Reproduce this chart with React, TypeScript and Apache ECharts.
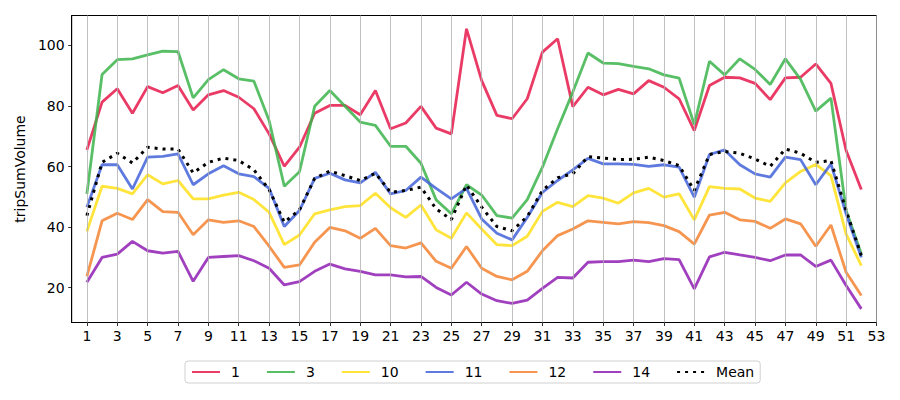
import React, { useEffect, useRef } from "react";
import * as echarts from "echarts";

const weeks = [1,2,3,4,5,6,7,8,9,10,11,12,13,14,15,16,17,18,19,20,21,22,23,24,25,26,27,28,29,30,31,32,33,34,35,36,37,38,39,40,41,42,43,44,45,46,47,48,49,50,51,52];
const xTicks = [1,3,5,7,9,11,13,15,17,19,21,23,25,27,29,31,33,35,37,39,41,43,45,47,49,51,53];
const yTicks = [20,40,60,80,100];

const s1 = [65.5,81.3,85.7,77.6,86.4,84.4,86.8,78.7,83.7,85.1,82.9,79.1,70.8,60.1,66.4,77.6,80.2,80.2,77.1,85.1,72.5,74.4,79.9,72.7,70.8,105.5,88.4,76.9,75.8,82.4,97.8,102.2,79.8,86.2,83.7,85.5,84.0,88.4,86.2,82.4,71.9,86.8,89.5,89.3,87.5,82.1,89.3,89.5,93.9,87.5,65.3,52.4];
const s3 = [51.0,90.4,95.3,95.6,96.9,98.1,98.0,82.7,88.7,92.0,89.0,88.2,75.2,53.5,58.3,79.9,85.1,79.9,74.7,73.6,66.7,66.7,61.1,49.0,44.4,54.0,50.6,43.8,43.0,49.1,59.8,72.5,84.6,97.5,94.2,94.0,93.1,92.3,90.3,89.2,73.9,94.8,90.3,95.6,92.1,87.1,95.6,88.8,78.3,82.6,45.5,31.1];
const s10 = [38.6,53.5,52.8,51.0,57.3,54.3,55.4,49.3,49.3,50.6,51.5,49.1,44.9,34.2,37.4,44.4,45.7,46.8,47.1,51.2,46.4,43.2,47.3,39.1,36.3,44.7,39.4,34.2,33.9,37.0,45.2,48.2,46.8,50.4,49.6,47.9,51.3,52.8,49.9,51.0,42.4,53.4,52.8,52.6,49.6,48.5,54.6,58.4,60.7,57.0,37.7,27.3];
const s11 = [46.6,60.6,60.6,52.6,63.1,63.4,64.2,54.0,57.6,60.3,57.6,56.7,52.8,40.2,45.5,56.1,57.8,55.6,54.6,58.1,51.0,52.1,56.5,52.8,49.3,52.8,42.7,38.0,35.8,43.2,51.5,55.4,58.9,62.7,60.9,60.9,60.7,60.1,60.6,59.8,49.9,64.0,65.5,60.6,57.6,56.5,63.1,62.3,54.0,60.9,44.4,30.0];
const s12 = [23.7,42.1,44.6,42.5,49.1,45.1,44.9,37.5,42.4,41.6,42.1,40.2,33.7,26.7,27.5,35.0,39.9,38.8,36.3,39.6,33.9,33.1,34.8,28.7,26.4,33.6,26.4,23.7,22.6,25.4,32.2,37.2,39.4,42.1,41.6,41.1,41.8,41.5,40.5,38.5,34.4,44.0,44.9,42.4,41.9,39.6,42.7,41.1,33.7,40.7,25.1,17.4];
const s14 = [21.8,30.0,31.1,35.3,32.2,31.4,32.0,22.1,30.0,30.3,30.6,28.9,26.4,20.9,22.0,25.4,27.8,26.2,25.4,24.2,24.2,23.6,23.7,20.1,17.6,21.8,17.9,15.7,14.8,15.9,19.8,23.4,23.2,28.4,28.6,28.6,29.1,28.6,29.6,29.3,19.6,30.2,31.7,30.8,30.0,28.9,30.8,30.8,27.0,29.1,20.7,13.0];
const mean = [43.8,61.4,64.4,61.2,66.4,65.8,65.8,57.9,61.4,62.8,62.0,58.9,52.4,41.6,45.7,56.1,58.5,57.0,55.4,57.8,51.5,52.1,53.2,46.0,42.5,53.9,46.6,40.2,38.8,43.5,52.1,56.3,57.6,63.3,62.8,62.3,62.4,63.1,62.0,60.3,52.1,64.0,65.0,64.4,62.5,60.1,65.8,64.4,61.4,62.0,45.5,30.6];

const seriesNames = ["1", "3", "10", "11", "12", "14"];
const seriesValues = [s1, s3, s10, s11, s12, s14];
const seriesColors = ["#e6194b", "#3cb44b", "#ffe119", "#4363d8", "#f58231", "#911eb4"];

const FONT = "DejaVu Sans";

export default function App() {
  const ref = useRef<HTMLDivElement>(null);
  useEffect(() => {
    if (!ref.current) return;
    const chart = echarts.init(ref.current, null, { renderer: "svg" });
    const toPairs = (vals: number[]) => weeks.map((w, i) => [w, vals[i]]);
    const series: any[] = [
      {
        name: "grid",
        type: "line",
        data: [],
        z: 1,
        silent: true,
        markLine: {
          silent: true,
          symbol: "none",
          animation: false,
          label: { show: false },
          lineStyle: { color: "#b0b0b0", width: 0.8, type: "solid" },
          emphasis: { disabled: true },
          data: xTicks.map((v) => ({ xAxis: v })),
        },
      },
    ];
    seriesNames.forEach((name, k) => {
      series.push({
        name,
        type: "line",
        z: 2,
        data: toPairs(seriesValues[k]),
        symbol: "none",
        color: seriesColors[k],
        lineStyle: { width: 2.8, color: seriesColors[k], opacity: 0.85 },
        itemStyle: { color: seriesColors[k], opacity: 0.85 },
      });
    });
    series.push({
      name: "Mean",
      type: "line",
      z: 3,
      data: toPairs(mean),
      symbol: "none",
      color: "#000",
      lineStyle: { width: 3, color: "#000", type: [3, 5], cap: "butt" },
      itemStyle: { color: "#000" },
    });
    chart.setOption({
      animation: false,
      backgroundColor: "#fff",
      textStyle: { fontFamily: FONT },
      grid: {
        left: 71.7,
        right: 23.5,
        top: 15.5,
        bottom: 77.5,
        show: true,
        borderColor: "#000",
        borderWidth: 1,
        containLabel: false,
      },
      xAxis: {
        type: "value",
        min: 0,
        max: 53,
        axisLine: { show: true, onZero: false, lineStyle: { color: "#000", width: 1 } },
        axisTick: { show: true, length: 3.5, inside: false, customValues: xTicks, lineStyle: { color: "#000", width: 0.8 } },
        axisLabel: { show: true, customValues: xTicks, margin: 6, color: "#000", fontSize: 14, fontFamily: FONT },
        splitLine: { show: false },
      },
      yAxis: {
        type: "value",
        min: 8.5,
        max: 109.9,
        name: "tripSumVolume",
        nameLocation: "middle",
        nameRotate: 90,
        nameGap: 44,
        nameTextStyle: { fontSize: 14, color: "#000", fontFamily: FONT },
        axisLine: { show: true, lineStyle: { color: "#000", width: 1 } },
        axisTick: { show: true, length: 3.5, customValues: yTicks, lineStyle: { color: "#000", width: 0.8 } },
        axisLabel: { show: true, customValues: yTicks, margin: 7, color: "#000", fontSize: 14, fontFamily: FONT },
        splitLine: { show: false },
      },
      legend: {
        show: true,
        left: 185,
        top: 361,
        orient: "horizontal",
        itemWidth: 28,
        itemHeight: 14,
        itemGap: 26,
        padding: [4, 6],
        borderColor: "#d0d0d0",
        borderWidth: 1,
        borderRadius: 3,
        backgroundColor: "rgba(255,255,255,0.8)",
        itemStyle: { opacity: 0, borderWidth: 0 },
        textStyle: { fontSize: 14, color: "#000", fontFamily: FONT, padding: [0, 0, 0, 6] },
        data: [...seriesNames, "Mean"],
      },
      series,
    });
    return () => chart.dispose();
  }, []);
  return <div ref={ref} style={{ width: 900, height: 400, position: "absolute", left: 0, top: 0 }} />;
}
